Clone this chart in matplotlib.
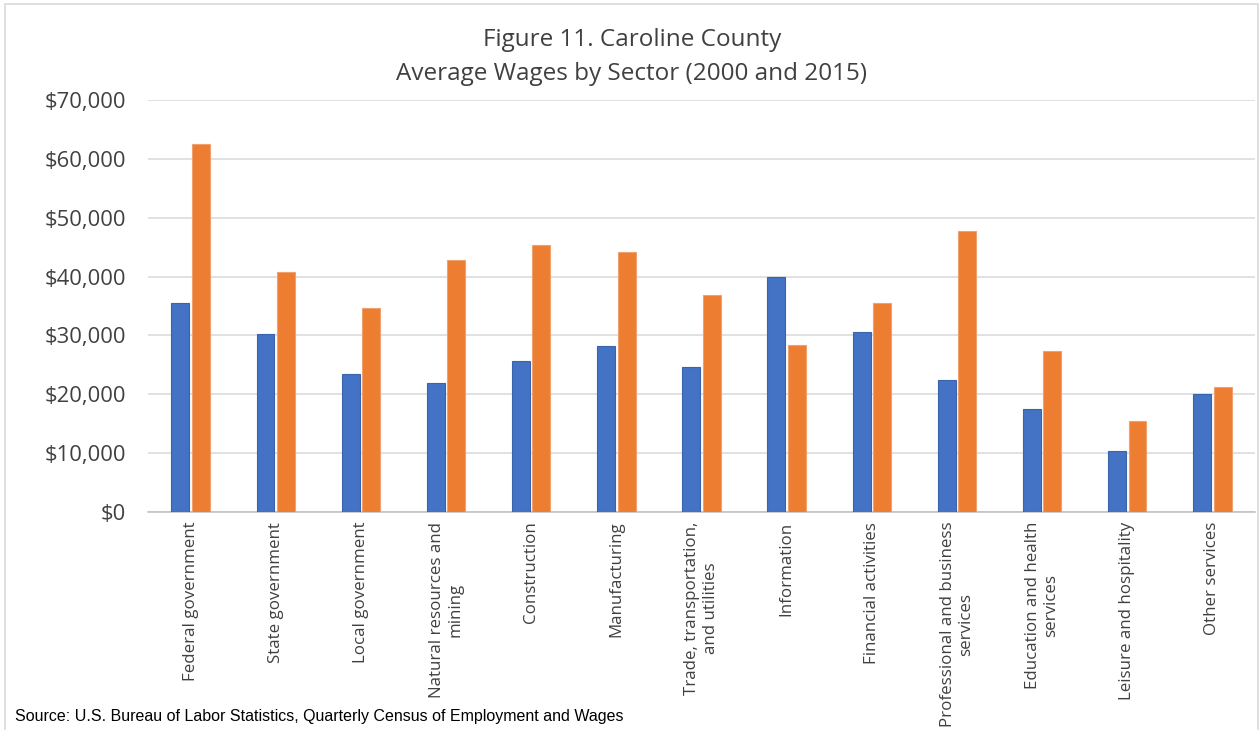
import matplotlib
matplotlib.use("Agg")
import matplotlib.pyplot as plt
import numpy as np
from matplotlib.ticker import FuncFormatter
from matplotlib.patches import Rectangle

categories = [
    "Federal government",
    "State government",
    "Local government",
    "Natural resources and\nmining",
    "Construction",
    "Manufacturing",
    "Trade, transportation,\nand utilities",
    "Information",
    "Financial activities",
    "Professional and business\nservices",
    "Education and health\nservices",
    "Leisure and hospitality",
    "Other services",
]
wages_2000 = [35500, 30200, 23500, 22000, 25700, 28200, 24700, 40000, 30500, 22400, 17500, 10400, 20000]
wages_2015 = [62500, 40700, 34700, 42800, 45400, 44100, 36900, 28300, 35500, 47700, 27300, 15500, 21200]
y_ticks = [0, 10000, 20000, 30000, 40000, 50000, 60000, 70000]

title_text = "Figure 11. Caroline County\nAverage Wages by Sector (2000 and 2015)"
source_text = "Source: U.S. Bureau of Labor Statistics, Quarterly Census of Employment and Wages"

BLUE = "#4472C4"
ORANGE = "#ED7D31"

fig = plt.figure(figsize=(12.59, 7.30), dpi=100)
fig.patch.set_facecolor("white")

# chart-area border
fig.add_artist(Rectangle((5 / 1259, -0.05), (1258 - 5) / 1259, 1.05 - 4 / 730,
                         transform=fig.transFigure, fill=False,
                         edgecolor="#D9D9D9", linewidth=1.2))

ax = fig.add_axes([148 / 1259, (730 - 512) / 730, (1255 - 148) / 1259, (512 - 100) / 730])

x = np.arange(len(categories))
w = 0.21
gap = 0.03
ax.bar(x - (w + gap) / 2, wages_2000, width=w, color=BLUE, edgecolor="#3A63AD",
       linewidth=0.8, zorder=3, label="2000")
ax.bar(x + (w + gap) / 2, wages_2015, width=w, color=ORANGE, edgecolor="#F0A170",
       linewidth=0.8, zorder=3, label="2015")

ax.set_xlim(-0.5, len(categories) - 0.5)
ax.set_ylim(0, 70000)
ax.set_yticks(y_ticks)
ax.yaxis.set_major_formatter(FuncFormatter(lambda v, p: "${:,.0f}".format(v)))
ax.grid(axis="y", color="#D9D9D9", linewidth=1.1, zorder=0)
ax.set_axisbelow(True)
for s in ["top", "right", "left"]:
    ax.spines[s].set_visible(False)
ax.spines["bottom"].set_color("#BFBFBF")
ax.spines["bottom"].set_linewidth(1.1)
ax.tick_params(axis="both", length=0)
ax.tick_params(axis="y", labelsize=15.8, labelcolor="#404040", pad=16)

ax.set_xticks(x)
ax.set_xticklabels(categories, rotation=90, fontsize=12.2, color="#404040",
                   ha="center", va="top", multialignment="center")
ax.tick_params(axis="x", pad=7)

for lab in ax.get_yticklabels():
    lab.set_family(["Open Sans", "DejaVu Sans"])
for lab in ax.get_xticklabels():
    lab.set_family(["Open Sans", "DejaVu Sans"])

fig.text(632 / 1259, 1 - 57 / 730, title_text, ha="center", va="center",
         fontsize=17.5, color="#404040", linespacing=1.6,
         family=["Open Sans", "DejaVu Sans"])

fig.text(15 / 1259, 1 - 717 / 730, source_text, ha="left", va="center",
         fontsize=11.5, color="black",
         family=["Liberation Sans Narrow", "Liberation Sans", "DejaVu Sans"])

fig.savefig("out.png", dpi=100, facecolor="white")
